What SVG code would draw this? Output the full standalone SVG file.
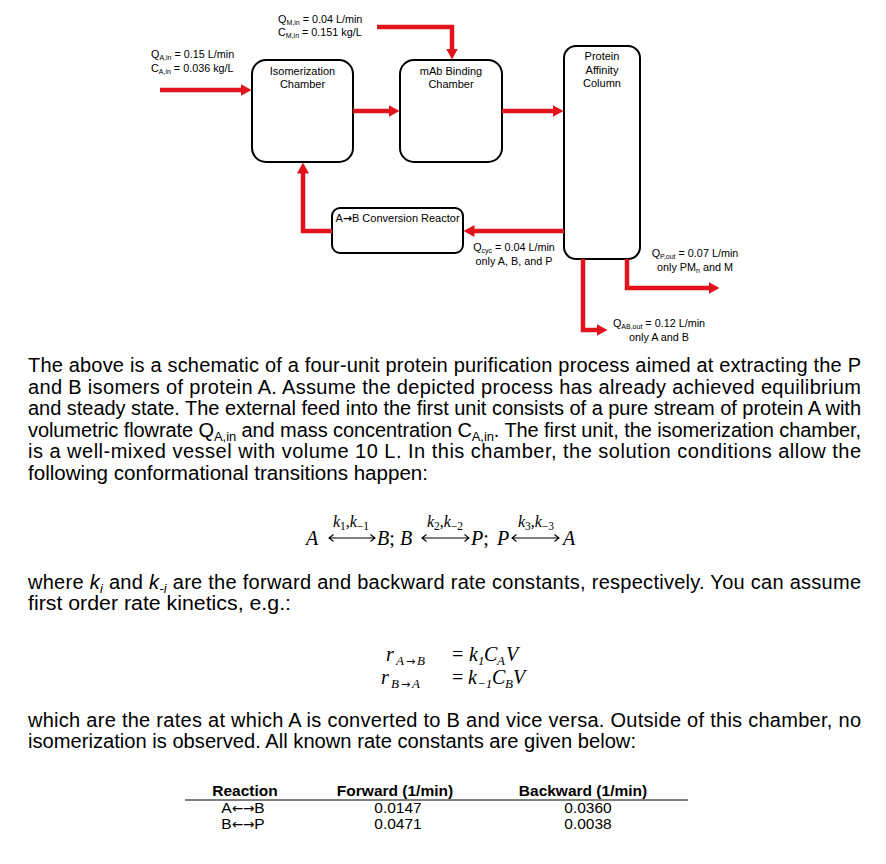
<svg xmlns="http://www.w3.org/2000/svg" width="886" height="864" viewBox="0 0 886 864">
<style>
  .box{fill:#fff;stroke:#000;stroke-width:2}
  .bl{font-family:"Liberation Sans",Arial,sans-serif;font-size:11px;fill:#000}
  .fl{font-family:"Liberation Sans",Arial,sans-serif;font-size:10.8px;fill:#000}
  .sb{font-size:7px}
  .ar{font-family:"DejaVu Sans",sans-serif}
  .arr{fill:none;stroke:#e3131b;stroke-width:4.5;stroke-linejoin:miter;stroke-linecap:butt}
  .p{font-family:"Liberation Sans",Arial,sans-serif;font-size:20px;fill:#000}
  .ps{font-size:13px}
  .m{font-family:"Liberation Serif","Times New Roman",serif;font-size:20px;font-style:italic;fill:#000}
  .mn{font-style:normal}
  .ms{font-family:"Liberation Serif","Times New Roman",serif;font-size:13px;font-style:italic;fill:#000}
  .msa{font-family:"DejaVu Sans",sans-serif;font-size:11px;fill:#000}
  .mk{font-family:"Liberation Serif","Times New Roman",serif;font-size:16px;font-style:italic;fill:#000}
  .mks{font-size:11.5px;font-style:normal}
  .eqa{fill:none;stroke:#000;stroke-width:1.1}
  .th{font-family:"Liberation Sans",Arial,sans-serif;font-size:15.5px;font-weight:bold;fill:#000}
  .td{font-family:"Liberation Sans",Arial,sans-serif;font-size:15.5px;fill:#000}
</style>
<defs>
  <marker id="ah" viewBox="0 0 11 12" refX="0.5" refY="6" markerWidth="11" markerHeight="12" markerUnits="userSpaceOnUse" orient="auto">
    <path d="M0,0 L11,6 L0,12 z" fill="#e3131b"/>
  </marker>
</defs>

<g id="isomerization-chamber">
  <rect class="box" x="252" y="60" width="101" height="102" rx="14"/>
  <text class="bl" x="302.5" y="74.5" text-anchor="middle">Isomerization</text>
  <text class="bl" x="302.5" y="88" text-anchor="middle">Chamber</text>
</g>
<g id="mab-binding-chamber">
  <rect class="box" x="400" y="60" width="102" height="102" rx="14"/>
  <text class="bl" x="451" y="74.5" text-anchor="middle">mAb Binding</text>
  <text class="bl" x="451" y="88" text-anchor="middle">Chamber</text>
</g>
<g id="protein-affinity-column">
  <rect class="box" x="564" y="46" width="76" height="213" rx="12"/>
  <text class="bl" x="602" y="60" text-anchor="middle">Protein</text>
  <text class="bl" x="602" y="73.5" text-anchor="middle">Affinity</text>
  <text class="bl" x="602" y="87" text-anchor="middle">Column</text>
</g>
<g id="conversion-reactor">
  <rect class="box" x="332" y="208" width="131" height="45" rx="8"/>
  <text class="bl" x="397.5" y="222" text-anchor="middle" font-size="10.5">A<tspan class="ar" font-weight="bold">→</tspan>B Conversion Reactor</text>
</g>

<g id="connectors">
  <path class="arr" d="M160,90 H241" marker-end="url(#ah)"/>
  <path class="arr" d="M377,27 H452 V49" marker-end="url(#ah)"/>
  <path class="arr" d="M353,111 H389" marker-end="url(#ah)"/>
  <path class="arr" d="M502,111 H553" marker-end="url(#ah)"/>
  <path class="arr" d="M564,231 H474" marker-end="url(#ah)"/>
  <path class="arr" d="M332,231 H303 V173" marker-end="url(#ah)"/>
  <path class="arr" d="M627,259 V288 H709" marker-end="url(#ah)"/>
  <path class="arr" d="M583,259 V330 H597" marker-end="url(#ah)"/>
</g>

<g id="flow-labels">
  <text class="fl" x="151" y="58">Q<tspan class="sb" dy="2">A,in</tspan><tspan dy="-2"> = 0.15 L/min</tspan></text>
  <text class="fl" x="151" y="71.5">C<tspan class="sb" dy="2">A,in</tspan><tspan dy="-2"> = 0.036 kg/L</tspan></text>
  <text class="fl" x="278" y="22.5">Q<tspan class="sb" dy="2">M,in</tspan><tspan dy="-2"> = 0.04 L/min</tspan></text>
  <text class="fl" x="278" y="35.5">C<tspan class="sb" dy="2">M,in</tspan><tspan dy="-2"> = 0.151 kg/L</tspan></text>
  <text class="fl" x="514" y="251" text-anchor="middle">Q<tspan class="sb" dy="2">cyc</tspan><tspan dy="-2"> = 0.04 L/min</tspan></text>
  <text class="fl" x="514" y="264.5" text-anchor="middle">only A, B, and P</text>
  <text class="fl" x="695" y="257" text-anchor="middle">Q<tspan class="sb" dy="2">P,out</tspan><tspan dy="-2"> = 0.07 L/min</tspan></text>
  <text class="fl" x="695" y="271" text-anchor="middle">only PM<tspan class="sb" dy="2">n</tspan><tspan dy="-2"> and M</tspan></text>
  <text class="fl" x="659" y="327" text-anchor="middle">Q<tspan class="sb" dy="2">AB,out</tspan><tspan dy="-2"> = 0.12 L/min</tspan></text>
  <text class="fl" x="659" y="340.5" text-anchor="middle">only A and B</text>
</g>

<g id="paragraph-1">
  <text class="p" x="28" y="372" textLength="833" lengthAdjust="spacing">The above is a schematic of a four-unit protein purification process aimed at extracting the P</text>
  <text class="p" x="28" y="393.5" textLength="833" lengthAdjust="spacing">and B isomers of protein A. Assume the depicted process has already achieved equilibrium</text>
  <text class="p" x="28" y="415" textLength="833" lengthAdjust="spacing">and steady state. The external feed into the first unit consists of a pure stream of protein A with</text>
  <text class="p" x="28" y="436.5" textLength="833" lengthAdjust="spacing">volumetric flowrate Q<tspan class="ps" dy="4">A,in</tspan><tspan dy="-4"> and mass concentration C</tspan><tspan class="ps" dy="4">A,in</tspan><tspan dy="-4">. The first unit, the isomerization chamber,</tspan></text>
  <text class="p" x="28" y="458" textLength="833" lengthAdjust="spacing">is a well-mixed vessel with volume 10 L. In this chamber, the solution conditions allow the</text>
  <text class="p" x="28" y="479.5" textLength="400" lengthAdjust="spacingAndGlyphs">following conformational transitions happen:</text>
</g>

<g id="reaction-chain">
  <text class="m" x="306" y="545">A</text>
  <text class="m" x="377" y="545">B<tspan class="mn">;</tspan></text>
  <text class="m" x="400" y="545">B</text>
  <text class="m" x="471" y="545">P<tspan class="mn">;</tspan></text>
  <text class="m" x="497" y="545">P</text>
  <text class="m" x="563" y="545">A</text>
  <path class="eqa" d="M329,538 H375 M333.5,534.5 L329,538 L333.5,541.5 M370.5,534.5 L375,538 L370.5,541.5"/>
  <path class="eqa" d="M422,538 H469 M426.5,534.5 L422,538 L426.5,541.5 M464.5,534.5 L469,538 L464.5,541.5"/>
  <path class="eqa" d="M512,538 H559 M516.5,534.5 L512,538 L516.5,541.5 M554.5,534.5 L559,538 L554.5,541.5"/>
  <text class="mk" x="351" y="527" text-anchor="middle">k<tspan class="mks" dy="2.5">1</tspan><tspan class="mn" dy="-2.5">,</tspan>k<tspan class="mks" dy="2.5">−1</tspan></text>
  <text class="mk" x="445" y="527" text-anchor="middle">k<tspan class="mks" dy="2.5">2</tspan><tspan class="mn" dy="-2.5">,</tspan>k<tspan class="mks" dy="2.5">−2</tspan></text>
  <text class="mk" x="536" y="527" text-anchor="middle">k<tspan class="mks" dy="2.5">3</tspan><tspan class="mn" dy="-2.5">,</tspan>k<tspan class="mks" dy="2.5">−3</tspan></text>
</g>

<g id="paragraph-2">
  <text class="p" x="28" y="588.5" textLength="833" lengthAdjust="spacing">where <tspan font-style="italic">k</tspan><tspan class="ps" font-style="italic" dy="4">i</tspan><tspan dy="-4"> and </tspan><tspan font-style="italic">k</tspan><tspan class="ps" font-style="italic" dy="4">-i</tspan><tspan dy="-4"> are the forward and backward rate constants, respectively. You can assume</tspan></text>
  <text class="p" x="28" y="610" textLength="263" lengthAdjust="spacingAndGlyphs">first order rate kinetics, e.g.:</text>
</g>

<g id="rate-equations">
  <text class="m" x="386" y="661">r</text>
  <text class="ms" x="396" y="665">A</text>
  <text class="msa" x="406" y="664.5">→</text>
  <text class="ms" x="417" y="665">B</text>
  <text class="m mn" x="452" y="661">=</text>
  <text class="m" x="469" y="661">k</text>
  <text class="ms mn" x="478" y="665">1</text>
  <text class="m" x="484" y="661">C</text>
  <text class="ms" x="497" y="665">A</text>
  <text class="m" x="506" y="661">V</text>

  <text class="m" x="381" y="684">r</text>
  <text class="ms" x="391" y="688">B</text>
  <text class="msa" x="401" y="687.5">→</text>
  <text class="ms" x="412" y="688">A</text>
  <text class="m mn" x="452" y="684">=</text>
  <text class="m" x="468" y="684">k</text>
  <text class="ms mn" x="477" y="688">−1</text>
  <text class="m" x="492" y="684">C</text>
  <text class="ms" x="505" y="688">B</text>
  <text class="m" x="513" y="684">V</text>
</g>

<g id="paragraph-3">
  <text class="p" x="28" y="727" textLength="833" lengthAdjust="spacing">which are the rates at which A is converted to B and vice versa. Outside of this chamber, no</text>
  <text class="p" x="28" y="748" textLength="608" lengthAdjust="spacingAndGlyphs">isomerization is observed. All known rate constants are given below:</text>
</g>

<g id="rate-table">
  <text class="th" x="245" y="796" text-anchor="middle">Reaction</text>
  <text class="th" x="395" y="796" text-anchor="middle">Forward (1/min)</text>
  <text class="th" x="583" y="796" text-anchor="middle">Backward (1/min)</text>
  <line x1="185" y1="800" x2="688" y2="800" stroke="#000" stroke-width="1"/>
  <text class="td" x="243" y="812.5" text-anchor="middle">A<tspan class="ar" font-size="13.5">←→</tspan>B</text>
  <text class="td" x="398" y="812.5" text-anchor="middle">0.0147</text>
  <text class="td" x="588" y="812.5" text-anchor="middle">0.0360</text>
  <text class="td" x="243" y="829" text-anchor="middle">B<tspan class="ar" font-size="13.5">←→</tspan>P</text>
  <text class="td" x="398" y="829" text-anchor="middle">0.0471</text>
  <text class="td" x="588" y="829" text-anchor="middle">0.0038</text>
</g>
</svg>
